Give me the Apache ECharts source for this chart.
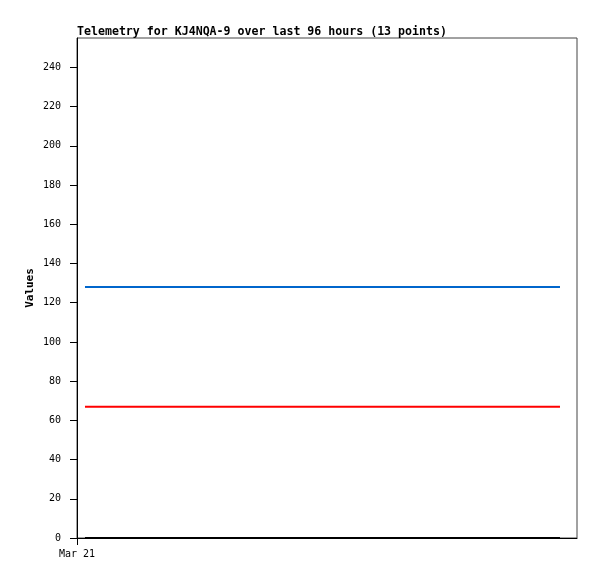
<!DOCTYPE html>
<html><head><meta charset="utf-8">
<script src="https://cdn.jsdelivr.net/npm/echarts@6/dist/echarts.min.js"></script>
<style>html,body{margin:0;padding:0;background:#fff}#c{width:597px;height:579px}</style>
</head><body><div id="c"></div>
<script>
var title = 'Telemetry for KJ4NQA-9 over last 96 hours (13 points)';
var times = ['2024-03-21T00:23','2024-03-21T02:17','2024-03-21T04:11','2024-03-21T06:05','2024-03-21T07:59','2024-03-21T09:53','2024-03-21T11:47','2024-03-21T13:41','2024-03-21T15:35','2024-03-21T17:29','2024-03-21T19:23','2024-03-21T21:17','2024-03-21T23:11'];
var blueValues = [128,128,128,128,128,128,128,128,128,128,128,128,128];
var redValues = [67,67,67,67,67,67,67,67,67,67,67,67,67];
var blackValues = [0,0,0,0,0,0,0,0,0,0,0,0,0];
var yTicks = [0,20,40,60,80,100,120,140,160,180,200,220,240];
var xLabel = 'Mar 21';
var yName = 'Values';

function ts(s){ var d=s.split('T'), a=d[0].split('-'), b=d[1].split(':'); return Date.UTC(+a[0],+a[1]-1,+a[2],+b[0],+b[1]); }
var t0 = Date.UTC(2024,2,21), day = 86400000;
function pairs(v){ return times.map(function(t,i){return [ts(t), v[i]];}); }
var mono = '"DejaVu Sans Mono", monospace';
var chart = echarts.init(document.getElementById('c'));
chart.setOption({
  animation:false,
  title:{text:title,left:72,top:21,textStyle:{fontFamily:mono,fontSize:11.6,fontWeight:'bold',color:'#000'}},
  grid:{left:77,right:20,top:38,bottom:41,show:true,borderColor:'#444',borderWidth:1,backgroundColor:'transparent'},
  xAxis:{type:'value',min:t0,max:t0+day,interval:day,
    axisLine:{lineStyle:{color:'#000',width:1}},
    axisTick:{customValues:[t0],length:7,lineStyle:{color:'#000'}},
    axisLabel:{customValues:[t0],formatter:function(){return xLabel;},fontFamily:mono,fontSize:10,color:'#000',margin:11},
    splitLine:{show:false}},
  yAxis:{type:'value',min:0,max:255,interval:20,name:yName,nameLocation:'middle',nameGap:41,nameMoveOverlap:false,
    nameTextStyle:{fontFamily:mono,fontSize:11,fontWeight:'bold',color:'#000'},
    axisLine:{show:true,lineStyle:{color:'#000',width:1}},
    axisTick:{customValues:yTicks,length:7,lineStyle:{color:'#000'}},
    axisLabel:{customValues:yTicks,fontFamily:mono,fontSize:10,color:'#000',margin:16},
    splitLine:{show:false}},
  series:[
    {type:'line',data:pairs(blueValues),showSymbol:false,lineStyle:{color:'#0066cc',width:2},itemStyle:{color:'#0066cc'}},
    {type:'line',data:pairs(redValues),showSymbol:false,lineStyle:{color:'#ff0000',width:2},itemStyle:{color:'#ff0000'}},
    {type:'line',data:pairs(blackValues),showSymbol:false,lineStyle:{color:'#000000',width:2},itemStyle:{color:'#000'},z:5}
  ]
});
</script></body></html>
